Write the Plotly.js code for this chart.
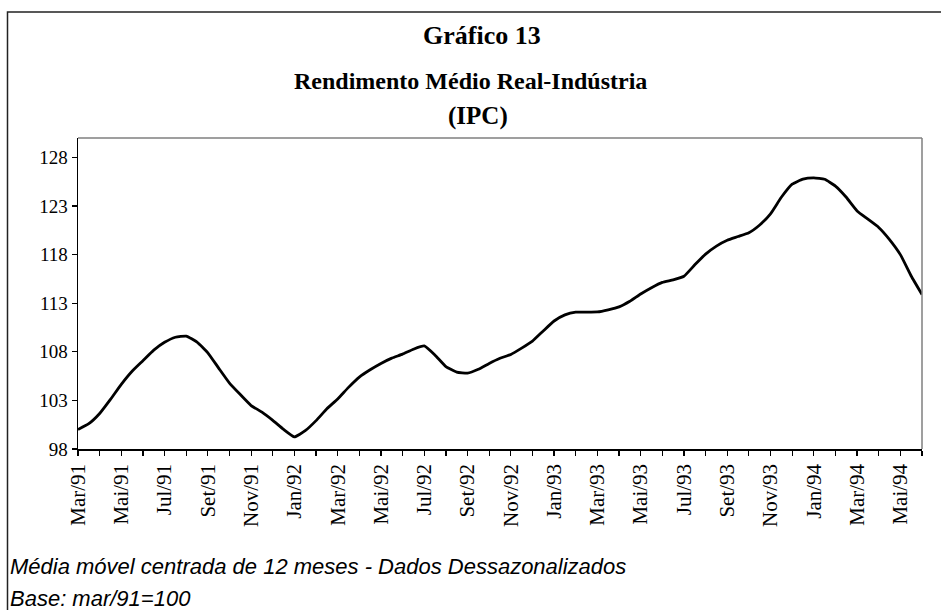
<!DOCTYPE html>
<html>
<head>
<meta charset="utf-8">
<script src="https://cdn.plot.ly/plotly-3.0.1.min.js"></script>
<style>
html,body{margin:0;padding:0;background:#fff;}
#chart{width:941px;height:610px;}
</style>
</head>
<body>
<div id="chart"></div>
<script>
// Month labels (Mar/91 .. Jun/94), one per month tick
const meses = ["Mar/91","Abr/91","Mai/91","Jun/91","Jul/91","Ago/91","Set/91","Out/91","Nov/91","Dez/91",
  "Jan/92","Fev/92","Mar/92","Abr/92","Mai/92","Jun/92","Jul/92","Ago/92","Set/92","Out/92","Nov/92","Dez/92",
  "Jan/93","Fev/93","Mar/93","Abr/93","Mai/93","Jun/93","Jul/93","Ago/93","Set/93","Out/93","Nov/93","Dez/93",
  "Jan/94","Fev/94","Mar/94","Abr/94","Mai/94","Jun/94"];

// Index values read at half-month steps, from Mar/91 to Jun/94 (base mar/91 = 100)
const rendimento = [
  100.0, 100.6, 101.65, 103.1, 104.65, 106.0, 107.08, 108.17, 108.98, 109.5,
  109.62, 109.0, 107.9, 106.32, 104.78, 103.6, 102.47, 101.79, 100.95, 100.02,
  99.25, 99.88, 100.92, 102.14, 103.15, 104.34, 105.4, 106.15, 106.8, 107.35,
  107.76, 108.27, 108.6, 107.65, 106.48, 105.91, 105.8, 106.2, 106.8, 107.33,
  107.73, 108.38, 109.1, 110.15, 111.17, 111.8, 112.08, 112.08, 112.1, 112.32,
  112.62, 113.2, 113.95, 114.6, 115.14, 115.4, 115.78, 116.95, 118.05, 118.88,
  119.48, 119.86, 120.25, 121.05, 122.2, 123.9, 125.25, 125.77, 125.9, 125.75,
  125.05, 123.9, 122.5, 121.65, 120.8, 119.55, 118.0, 115.8, 113.9
];

const yTicks = [98, 103, 108, 113, 118, 123, 128];

const titulo = "Gráfico 13";
const subtitulo1 = "Rendimento Médio Real-Indústria";
const subtitulo2 = "(IPC)";
const nota1 = "Média móvel centrada de 12 meses - Dados Dessazonalizados";
const nota2 = "Base: mar/91=100";

// ---- layout geometry (pixels) ----
const W = 941, H = 610;
const M = {l: 78, r: 19, t: 138, b: 161};
const PW = W - M.l - M.r, PH = H - M.t - M.b;
const px2x = x => (x - M.l) / PW;
const px2y = y => (H - M.b - y) / PH;

const xs = rendimento.map((_, i) => i * 0.5);
const tickvals = meses.map((_, i) => i);
const ticktext = meses.map((m, i) => (i % 2 === 0 && i < meses.length - 1) ? m : "");

const serif = "'Liberation Serif', 'Times New Roman', serif";
const sans = "'Liberation Sans', Arial, sans-serif";

const trace = {
  x: xs, y: rendimento, type: "scatter", mode: "lines",
  line: {color: "#000", width: 2.8, shape: "spline", smoothing: 0.4},
  hoverinfo: "skip"
};

const layout = {
  width: W, height: H,
  margin: M,
  paper_bgcolor: "#fff", plot_bgcolor: "#fff",
  showlegend: false,
  xaxis: {
    range: [0, meses.length - 1],
    tickmode: "array", tickvals: tickvals, ticktext: ticktext,
    tickangle: -90,
    ticks: "outside", ticklen: 5, tickwidth: 1.2, tickcolor: "#000",
    showline: true, linecolor: "#000", linewidth: 1.5,
    showgrid: false, zeroline: false,
    tickfont: {family: serif, size: 21, color: "#000"}
  },
  yaxis: {
    range: [98, 130],
    tickmode: "array", tickvals: yTicks, ticktext: yTicks.map(String),
    ticks: "outside", ticklen: 5, tickwidth: 1.2, tickcolor: "#000",
    showline: true, linecolor: "#000", linewidth: 1.5,
    showgrid: false, zeroline: false,
    tickfont: {family: serif, size: 19, color: "#000"}
  },
  shapes: [
    {type: "line", xref: "paper", yref: "paper", x0: 0, x1: 1, y0: 1, y1: 1,
     line: {color: "#7f7f7f", width: 1.5}},
    {type: "line", xref: "paper", yref: "paper", x0: 1, x1: 1, y0: 0, y1: 1,
     line: {color: "#7f7f7f", width: 1.5}},
    {type: "rect", xref: "paper", yref: "paper",
     x0: px2x(7.5), x1: px2x(960), y0: px2y(630), y1: px2y(12),
     line: {color: "#222", width: 1.5}, fillcolor: "rgba(0,0,0,0)"}
  ],
  annotations: [
    {text: "<b>" + titulo + "</b>", xref: "paper", yref: "paper", x: px2x(482), y: px2y(36),
     xanchor: "center", yanchor: "middle", showarrow: false,
     font: {family: serif, size: 26, color: "#000"}},
    {text: "<b>" + subtitulo1 + "</b>", xref: "paper", yref: "paper", x: px2x(470), y: px2y(81),
     xanchor: "center", yanchor: "middle", showarrow: false,
     font: {family: serif, size: 24, color: "#000"}},
    {text: "<b>" + subtitulo2 + "</b>", xref: "paper", yref: "paper", x: px2x(478), y: px2y(116),
     xanchor: "center", yanchor: "middle", showarrow: false,
     font: {family: serif, size: 25, color: "#000"}},
    {text: "<i>" + nota1 + "</i>", xref: "paper", yref: "paper", x: px2x(8), y: px2y(566),
     xanchor: "left", yanchor: "middle", showarrow: false,
     font: {family: sans, size: 22, color: "#000"}},
    {text: "<i>" + nota2 + "</i>", xref: "paper", yref: "paper", x: px2x(8), y: px2y(598),
     xanchor: "left", yanchor: "middle", showarrow: false,
     font: {family: sans, size: 22, color: "#000"}}
  ]
};

Plotly.newPlot("chart", [trace], layout, {staticPlot: true, displayModeBar: false});
</script>
</body>
</html>
